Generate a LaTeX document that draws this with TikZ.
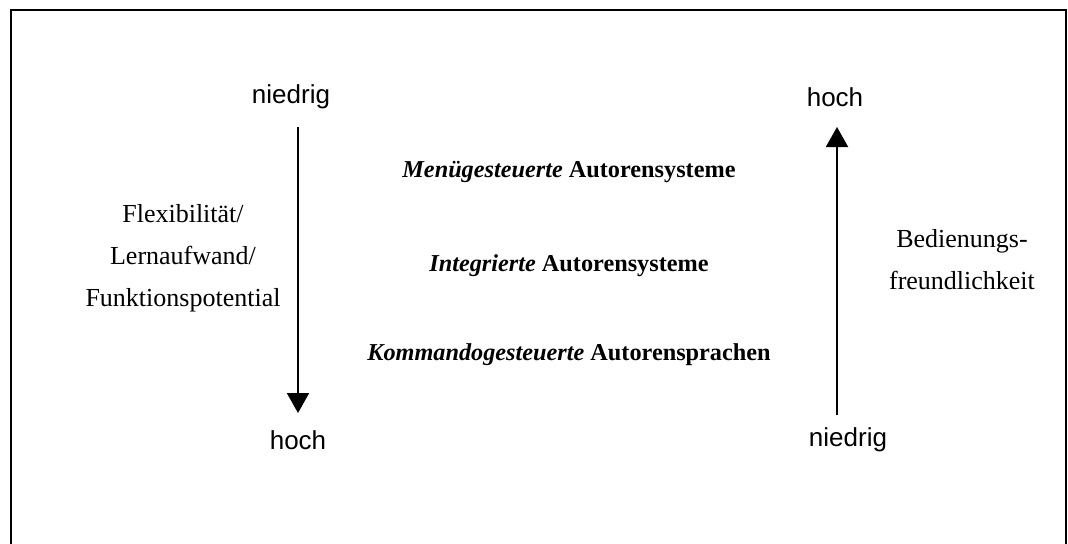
\documentclass[tikz,border=0pt]{standalone}
\usepackage{fontspec}
\usetikzlibrary{arrows.meta}
\setmainfont{Liberation Serif}
\setsansfont{Liberation Sans}
\begin{document}
\begin{tikzpicture}[x=0.75pt,y=-0.75pt,
  sanslbl/.style={font=\sffamily\fontsize{19.5}{23}\selectfont, inner sep=0pt},
  seriflbl/.style={font=\fontsize{19.5}{31.5}\selectfont, align=center, inner sep=0pt},
  midlbl/.style={font=\bfseries\fontsize{18.2}{22}\selectfont, inner sep=0pt},
  bigarrow/.style={line width=1.5pt, -{Triangle[length=15pt,width=16.5pt]}}]
\useasboundingbox (0,0) rectangle (1068,543);
\draw[line width=1.5pt] (11,600) -- (11,10) -- (1066,10) -- (1066,600);
% left
\node[sanslbl] (lniedrig) at (291,97) {niedrig};
\node[sanslbl] (lhoch) at (298,440) {hoch};
\coordinate (ltop) at (298,127);
\coordinate (lbot) at (298,413);
\draw[bigarrow] (ltop) -- (lbot);
\node[seriflbl] (lleft) at (183,258) {Flexibilität/\\Lernaufwand/\\Funktionspotential};
% right
\node[sanslbl] (rhoch) at (835,97) {hoch};
\node[sanslbl] (rniedrig) at (848,440) {niedrig};
\coordinate (rbot) at (837,415);
\coordinate (rtop) at (837,127);
\draw[bigarrow] (rbot) -- (rtop);
\node[seriflbl] (rlbl) at (962,260) {Bedienungs-\\freundlichkeit};
% middle
\node[midlbl] (m1) at (569,172) {\textit{Menügesteuerte} Autorensysteme};
\node[midlbl] (m2) at (569,266) {\textit{Integrierte} Autorensysteme};
\node[midlbl] (m3) at (569,355) {\textit{Kommandogesteuerte} Autorensprachen};
\end{tikzpicture}
\end{document}
